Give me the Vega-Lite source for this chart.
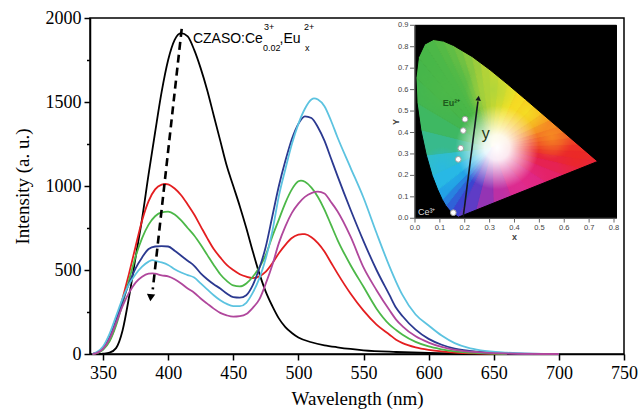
{
"$schema": "https://vega.github.io/schema/vega-lite/v6.json",
"width": 534,
"height": 336,
"autosize": {"type": "none"},
"padding": {"left": 90, "top": 18, "right": 14, "bottom": 58},
"background": "white",
"config": {
  "view": {"stroke": "black", "strokeWidth": 1.5},
  "axis": {"labelFont": "Liberation Serif", "labelFontSize": 18, "labelColor": "black", "titleFont": "Liberation Serif", "titleFontSize": 19, "titleFontWeight": "normal", "titleColor": "black", "domainColor": "black", "domainWidth": 1.5, "tickColor": "black", "tickWidth": 1.5, "grid": false, "labelOverlap": false, "labelFlush": false}
},
"datasets": {
  "spectra": [
    {"s":"x0","w":347,"v":0},{"s":"x0","w":350,"v":2},{"s":"x0","w":355,"v":8},{"s":"x0","w":360,"v":35},{"s":"x0","w":365,"v":140},{"s":"x0","w":370,"v":340},{"s":"x0","w":375,"v":575},{"s":"x0","w":380,"v":805},{"s":"x0","w":385,"v":1070},{"s":"x0","w":390,"v":1320},{"s":"x0","w":395,"v":1560},{"s":"x0","w":400,"v":1750},{"s":"x0","w":405,"v":1870},{"s":"x0","w":410,"v":1910},{"s":"x0","w":415,"v":1890},{"s":"x0","w":420,"v":1810},{"s":"x0","w":425,"v":1700},{"s":"x0","w":430,"v":1570},{"s":"x0","w":435,"v":1420},{"s":"x0","w":440,"v":1270},{"s":"x0","w":445,"v":1120},{"s":"x0","w":450,"v":1000},{"s":"x0","w":455,"v":880},{"s":"x0","w":460,"v":750},{"s":"x0","w":465,"v":610},{"s":"x0","w":470,"v":480},{"s":"x0","w":475,"v":370},{"s":"x0","w":480,"v":285},{"s":"x0","w":485,"v":212},{"s":"x0","w":490,"v":160},{"s":"x0","w":495,"v":125},{"s":"x0","w":500,"v":98},{"s":"x0","w":510,"v":70},{"s":"x0","w":520,"v":52},{"s":"x0","w":530,"v":40},{"s":"x0","w":540,"v":30},{"s":"x0","w":550,"v":22},{"s":"x0","w":575,"v":12},{"s":"x0","w":600,"v":6},{"s":"x0","w":650,"v":2},{"s":"x0","w":700,"v":0},
    {"s":"x1","w":342,"v":0},{"s":"x1","w":345,"v":5},{"s":"x1","w":350,"v":30},{"s":"x1","w":355,"v":80},{"s":"x1","w":360,"v":180},{"s":"x1","w":365,"v":330},{"s":"x1","w":370,"v":480},{"s":"x1","w":375,"v":640},{"s":"x1","w":380,"v":795},{"s":"x1","w":385,"v":910},{"s":"x1","w":390,"v":980},{"s":"x1","w":395,"v":1008},{"s":"x1","w":398,"v":1012},{"s":"x1","w":400,"v":1010},{"s":"x1","w":405,"v":985},{"s":"x1","w":410,"v":945},{"s":"x1","w":415,"v":890},{"s":"x1","w":420,"v":830},{"s":"x1","w":425,"v":760},{"s":"x1","w":430,"v":690},{"s":"x1","w":435,"v":625},{"s":"x1","w":440,"v":575},{"s":"x1","w":445,"v":530},{"s":"x1","w":450,"v":500},{"s":"x1","w":455,"v":475},{"s":"x1","w":460,"v":460},{"s":"x1","w":465,"v":452},{"s":"x1","w":470,"v":462},{"s":"x1","w":475,"v":490},{"s":"x1","w":480,"v":540},{"s":"x1","w":485,"v":600},{"s":"x1","w":490,"v":650},{"s":"x1","w":495,"v":690},{"s":"x1","w":500,"v":710},{"s":"x1","w":503,"v":714},{"s":"x1","w":505,"v":713},{"s":"x1","w":510,"v":695},{"s":"x1","w":515,"v":660},{"s":"x1","w":520,"v":610},{"s":"x1","w":525,"v":545},{"s":"x1","w":530,"v":480},{"s":"x1","w":540,"v":360},{"s":"x1","w":550,"v":258},{"s":"x1","w":560,"v":175},{"s":"x1","w":570,"v":115},{"s":"x1","w":575,"v":85},{"s":"x1","w":580,"v":65},{"s":"x1","w":590,"v":40},{"s":"x1","w":600,"v":25},{"s":"x1","w":610,"v":15},{"s":"x1","w":620,"v":8},{"s":"x1","w":640,"v":3},{"s":"x1","w":660,"v":0},
    {"s":"x2","w":342,"v":0},{"s":"x2","w":345,"v":5},{"s":"x2","w":350,"v":25},{"s":"x2","w":355,"v":75},{"s":"x2","w":360,"v":170},{"s":"x2","w":365,"v":300},{"s":"x2","w":370,"v":440},{"s":"x2","w":375,"v":580},{"s":"x2","w":380,"v":690},{"s":"x2","w":385,"v":770},{"s":"x2","w":390,"v":820},{"s":"x2","w":395,"v":843},{"s":"x2","w":400,"v":847},{"s":"x2","w":405,"v":830},{"s":"x2","w":410,"v":795},{"s":"x2","w":415,"v":750},{"s":"x2","w":420,"v":705},{"s":"x2","w":425,"v":650},{"s":"x2","w":430,"v":590},{"s":"x2","w":435,"v":530},{"s":"x2","w":440,"v":475},{"s":"x2","w":445,"v":435},{"s":"x2","w":450,"v":408},{"s":"x2","w":455,"v":402},{"s":"x2","w":460,"v":420},{"s":"x2","w":465,"v":460},{"s":"x2","w":470,"v":515},{"s":"x2","w":475,"v":590},{"s":"x2","w":480,"v":700},{"s":"x2","w":485,"v":800},{"s":"x2","w":490,"v":900},{"s":"x2","w":495,"v":980},{"s":"x2","w":500,"v":1028},{"s":"x2","w":502,"v":1032},{"s":"x2","w":505,"v":1025},{"s":"x2","w":510,"v":990},{"s":"x2","w":515,"v":935},{"s":"x2","w":520,"v":860},{"s":"x2","w":525,"v":770},{"s":"x2","w":530,"v":680},{"s":"x2","w":540,"v":530},{"s":"x2","w":550,"v":400},{"s":"x2","w":560,"v":270},{"s":"x2","w":570,"v":175},{"s":"x2","w":575,"v":143},{"s":"x2","w":580,"v":115},{"s":"x2","w":590,"v":72},{"s":"x2","w":600,"v":45},{"s":"x2","w":610,"v":28},{"s":"x2","w":620,"v":15},{"s":"x2","w":640,"v":5},{"s":"x2","w":660,"v":0},
    {"s":"x3","w":342,"v":0},{"s":"x3","w":345,"v":8},{"s":"x3","w":350,"v":35},{"s":"x3","w":355,"v":100},{"s":"x3","w":360,"v":200},{"s":"x3","w":365,"v":315},{"s":"x3","w":370,"v":420},{"s":"x3","w":375,"v":510},{"s":"x3","w":380,"v":575},{"s":"x3","w":385,"v":625},{"s":"x3","w":390,"v":640},{"s":"x3","w":395,"v":642},{"s":"x3","w":400,"v":640},{"s":"x3","w":405,"v":615},{"s":"x3","w":410,"v":585},{"s":"x3","w":415,"v":555},{"s":"x3","w":420,"v":525},{"s":"x3","w":425,"v":480},{"s":"x3","w":430,"v":445},{"s":"x3","w":435,"v":415},{"s":"x3","w":440,"v":390},{"s":"x3","w":445,"v":360},{"s":"x3","w":450,"v":338},{"s":"x3","w":455,"v":335},{"s":"x3","w":460,"v":350},{"s":"x3","w":465,"v":410},{"s":"x3","w":470,"v":510},{"s":"x3","w":475,"v":640},{"s":"x3","w":480,"v":820},{"s":"x3","w":485,"v":1000},{"s":"x3","w":490,"v":1150},{"s":"x3","w":495,"v":1280},{"s":"x3","w":500,"v":1370},{"s":"x3","w":505,"v":1415},{"s":"x3","w":510,"v":1405},{"s":"x3","w":515,"v":1350},{"s":"x3","w":520,"v":1270},{"s":"x3","w":525,"v":1165},{"s":"x3","w":530,"v":1060},{"s":"x3","w":540,"v":860},{"s":"x3","w":550,"v":672},{"s":"x3","w":560,"v":500},{"s":"x3","w":570,"v":350},{"s":"x3","w":575,"v":275},{"s":"x3","w":580,"v":225},{"s":"x3","w":590,"v":145},{"s":"x3","w":600,"v":90},{"s":"x3","w":610,"v":55},{"s":"x3","w":620,"v":32},{"s":"x3","w":640,"v":12},{"s":"x3","w":660,"v":4},{"s":"x3","w":680,"v":0},
    {"s":"x4","w":342,"v":0},{"s":"x4","w":345,"v":10},{"s":"x4","w":350,"v":45},{"s":"x4","w":355,"v":120},{"s":"x4","w":360,"v":225},{"s":"x4","w":365,"v":330},{"s":"x4","w":370,"v":415},{"s":"x4","w":375,"v":475},{"s":"x4","w":380,"v":520},{"s":"x4","w":385,"v":550},{"s":"x4","w":388,"v":559},{"s":"x4","w":390,"v":555},{"s":"x4","w":395,"v":545},{"s":"x4","w":400,"v":530},{"s":"x4","w":405,"v":505},{"s":"x4","w":410,"v":485},{"s":"x4","w":415,"v":470},{"s":"x4","w":420,"v":455},{"s":"x4","w":425,"v":420},{"s":"x4","w":430,"v":385},{"s":"x4","w":435,"v":350},{"s":"x4","w":440,"v":320},{"s":"x4","w":445,"v":298},{"s":"x4","w":450,"v":285},{"s":"x4","w":455,"v":285},{"s":"x4","w":460,"v":305},{"s":"x4","w":465,"v":365},{"s":"x4","w":470,"v":450},{"s":"x4","w":475,"v":570},{"s":"x4","w":480,"v":730},{"s":"x4","w":485,"v":940},{"s":"x4","w":490,"v":1100},{"s":"x4","w":495,"v":1250},{"s":"x4","w":500,"v":1370},{"s":"x4","w":505,"v":1460},{"s":"x4","w":510,"v":1515},{"s":"x4","w":512,"v":1522},{"s":"x4","w":515,"v":1515},{"s":"x4","w":520,"v":1475},{"s":"x4","w":525,"v":1390},{"s":"x4","w":530,"v":1290},{"s":"x4","w":540,"v":1110},{"s":"x4","w":550,"v":930},{"s":"x4","w":560,"v":720},{"s":"x4","w":570,"v":520},{"s":"x4","w":575,"v":430},{"s":"x4","w":580,"v":350},{"s":"x4","w":590,"v":235},{"s":"x4","w":600,"v":170},{"s":"x4","w":610,"v":110},{"s":"x4","w":620,"v":65},{"s":"x4","w":630,"v":38},{"s":"x4","w":640,"v":22},{"s":"x4","w":660,"v":8},{"s":"x4","w":680,"v":2},{"s":"x4","w":700,"v":0},
    {"s":"x5","w":342,"v":0},{"s":"x5","w":345,"v":5},{"s":"x5","w":350,"v":30},{"s":"x5","w":355,"v":90},{"s":"x5","w":360,"v":185},{"s":"x5","w":365,"v":285},{"s":"x5","w":370,"v":365},{"s":"x5","w":375,"v":425},{"s":"x5","w":380,"v":460},{"s":"x5","w":385,"v":478},{"s":"x5","w":388,"v":480},{"s":"x5","w":390,"v":478},{"s":"x5","w":395,"v":468},{"s":"x5","w":400,"v":462},{"s":"x5","w":405,"v":445},{"s":"x5","w":410,"v":420},{"s":"x5","w":415,"v":390},{"s":"x5","w":420,"v":365},{"s":"x5","w":425,"v":330},{"s":"x5","w":430,"v":300},{"s":"x5","w":435,"v":270},{"s":"x5","w":440,"v":245},{"s":"x5","w":445,"v":230},{"s":"x5","w":450,"v":222},{"s":"x5","w":455,"v":225},{"s":"x5","w":460,"v":238},{"s":"x5","w":465,"v":275},{"s":"x5","w":470,"v":325},{"s":"x5","w":475,"v":420},{"s":"x5","w":480,"v":530},{"s":"x5","w":485,"v":660},{"s":"x5","w":490,"v":760},{"s":"x5","w":495,"v":840},{"s":"x5","w":500,"v":895},{"s":"x5","w":505,"v":935},{"s":"x5","w":510,"v":958},{"s":"x5","w":515,"v":966},{"s":"x5","w":520,"v":955},{"s":"x5","w":525,"v":905},{"s":"x5","w":530,"v":850},{"s":"x5","w":540,"v":700},{"s":"x5","w":550,"v":515},{"s":"x5","w":560,"v":380},{"s":"x5","w":570,"v":260},{"s":"x5","w":575,"v":205},{"s":"x5","w":580,"v":165},{"s":"x5","w":590,"v":105},{"s":"x5","w":600,"v":68},{"s":"x5","w":610,"v":42},{"s":"x5","w":620,"v":25},{"s":"x5","w":640,"v":10},{"s":"x5","w":660,"v":3},{"s":"x5","w":700,"v":0}
  ],
  "fan": [
    {"t":0,"o":0,"cx":0.31,"cy":0.33},{"t":0,"o":1,"cx":0.1741,"cy":0.005},{"t":0,"o":2,"cx":0.144,"cy":0.0297},
    {"t":1,"o":0,"cx":0.31,"cy":0.33},{"t":1,"o":1,"cx":0.144,"cy":0.0297},{"t":1,"o":2,"cx":0.1241,"cy":0.0578},
    {"t":2,"o":0,"cx":0.31,"cy":0.33},{"t":2,"o":1,"cx":0.1241,"cy":0.0578},{"t":2,"o":2,"cx":0.1096,"cy":0.0868},
    {"t":3,"o":0,"cx":0.31,"cy":0.33},{"t":3,"o":1,"cx":0.1096,"cy":0.0868},{"t":3,"o":2,"cx":0.0913,"cy":0.1327},
    {"t":4,"o":0,"cx":0.31,"cy":0.33},{"t":4,"o":1,"cx":0.0913,"cy":0.1327},{"t":4,"o":2,"cx":0.0687,"cy":0.2007},
    {"t":5,"o":0,"cx":0.31,"cy":0.33},{"t":5,"o":1,"cx":0.0687,"cy":0.2007},{"t":5,"o":2,"cx":0.0454,"cy":0.295},
    {"t":6,"o":0,"cx":0.31,"cy":0.33},{"t":6,"o":1,"cx":0.0454,"cy":0.295},{"t":6,"o":2,"cx":0.0235,"cy":0.4127},
    {"t":7,"o":0,"cx":0.31,"cy":0.33},{"t":7,"o":1,"cx":0.0235,"cy":0.4127},{"t":7,"o":2,"cx":0.0082,"cy":0.5384},
    {"t":8,"o":0,"cx":0.31,"cy":0.33},{"t":8,"o":1,"cx":0.0082,"cy":0.5384},{"t":8,"o":2,"cx":0.0039,"cy":0.6548},
    {"t":9,"o":0,"cx":0.31,"cy":0.33},{"t":9,"o":1,"cx":0.0039,"cy":0.6548},{"t":9,"o":2,"cx":0.0139,"cy":0.7502},
    {"t":10,"o":0,"cx":0.31,"cy":0.33},{"t":10,"o":1,"cx":0.0139,"cy":0.7502},{"t":10,"o":2,"cx":0.0389,"cy":0.812},
    {"t":11,"o":0,"cx":0.31,"cy":0.33},{"t":11,"o":1,"cx":0.0389,"cy":0.812},{"t":11,"o":2,"cx":0.0743,"cy":0.8338},
    {"t":12,"o":0,"cx":0.31,"cy":0.33},{"t":12,"o":1,"cx":0.0743,"cy":0.8338},{"t":12,"o":2,"cx":0.1142,"cy":0.8262},
    {"t":13,"o":0,"cx":0.31,"cy":0.33},{"t":13,"o":1,"cx":0.1142,"cy":0.8262},{"t":13,"o":2,"cx":0.1547,"cy":0.8059},
    {"t":14,"o":0,"cx":0.31,"cy":0.33},{"t":14,"o":1,"cx":0.1547,"cy":0.8059},{"t":14,"o":2,"cx":0.1922,"cy":0.7801},
    {"t":15,"o":0,"cx":0.31,"cy":0.33},{"t":15,"o":1,"cx":0.1922,"cy":0.7801},{"t":15,"o":2,"cx":0.2296,"cy":0.7543},
    {"t":16,"o":0,"cx":0.31,"cy":0.33},{"t":16,"o":1,"cx":0.2296,"cy":0.7543},{"t":16,"o":2,"cx":0.2656,"cy":0.7233},
    {"t":17,"o":0,"cx":0.31,"cy":0.33},{"t":17,"o":1,"cx":0.2656,"cy":0.7233},{"t":17,"o":2,"cx":0.3016,"cy":0.6923},
    {"t":18,"o":0,"cx":0.31,"cy":0.33},{"t":18,"o":1,"cx":0.3016,"cy":0.6923},{"t":18,"o":2,"cx":0.3374,"cy":0.6584},
    {"t":19,"o":0,"cx":0.31,"cy":0.33},{"t":19,"o":1,"cx":0.3374,"cy":0.6584},{"t":19,"o":2,"cx":0.3731,"cy":0.6245},
    {"t":20,"o":0,"cx":0.31,"cy":0.33},{"t":20,"o":1,"cx":0.3731,"cy":0.6245},{"t":20,"o":2,"cx":0.4086,"cy":0.5896},
    {"t":21,"o":0,"cx":0.31,"cy":0.33},{"t":21,"o":1,"cx":0.4086,"cy":0.5896},{"t":21,"o":2,"cx":0.4441,"cy":0.5547},
    {"t":22,"o":0,"cx":0.31,"cy":0.33},{"t":22,"o":1,"cx":0.4441,"cy":0.5547},{"t":22,"o":2,"cx":0.4783,"cy":0.5207},
    {"t":23,"o":0,"cx":0.31,"cy":0.33},{"t":23,"o":1,"cx":0.4783,"cy":0.5207},{"t":23,"o":2,"cx":0.5125,"cy":0.4866},
    {"t":24,"o":0,"cx":0.31,"cy":0.33},{"t":24,"o":1,"cx":0.5125,"cy":0.4866},{"t":24,"o":2,"cx":0.5439,"cy":0.4554},
    {"t":25,"o":0,"cx":0.31,"cy":0.33},{"t":25,"o":1,"cx":0.5439,"cy":0.4554},{"t":25,"o":2,"cx":0.5752,"cy":0.4242},
    {"t":26,"o":0,"cx":0.31,"cy":0.33},{"t":26,"o":1,"cx":0.5752,"cy":0.4242},{"t":26,"o":2,"cx":0.6011,"cy":0.3984},
    {"t":27,"o":0,"cx":0.31,"cy":0.33},{"t":27,"o":1,"cx":0.6011,"cy":0.3984},{"t":27,"o":2,"cx":0.627,"cy":0.3725},
    {"t":28,"o":0,"cx":0.31,"cy":0.33},{"t":28,"o":1,"cx":0.627,"cy":0.3725},{"t":28,"o":2,"cx":0.6593,"cy":0.3404},
    {"t":29,"o":0,"cx":0.31,"cy":0.33},{"t":29,"o":1,"cx":0.6593,"cy":0.3404},{"t":29,"o":2,"cx":0.6915,"cy":0.3083},
    {"t":30,"o":0,"cx":0.31,"cy":0.33},{"t":30,"o":1,"cx":0.6915,"cy":0.3083},{"t":30,"o":2,"cx":0.7347,"cy":0.2653},
    {"t":31,"o":0,"cx":0.31,"cy":0.33},{"t":31,"o":1,"cx":0.7347,"cy":0.2653},{"t":31,"o":2,"cx":0.6646,"cy":0.2328},
    {"t":32,"o":0,"cx":0.31,"cy":0.33},{"t":32,"o":1,"cx":0.6646,"cy":0.2328},{"t":32,"o":2,"cx":0.5945,"cy":0.2002},
    {"t":33,"o":0,"cx":0.31,"cy":0.33},{"t":33,"o":1,"cx":0.5945,"cy":0.2002},{"t":33,"o":2,"cx":0.5245,"cy":0.1677},
    {"t":34,"o":0,"cx":0.31,"cy":0.33},{"t":34,"o":1,"cx":0.5245,"cy":0.1677},{"t":34,"o":2,"cx":0.4544,"cy":0.1352},
    {"t":35,"o":0,"cx":0.31,"cy":0.33},{"t":35,"o":1,"cx":0.4544,"cy":0.1352},{"t":35,"o":2,"cx":0.3843,"cy":0.1026},
    {"t":36,"o":0,"cx":0.31,"cy":0.33},{"t":36,"o":1,"cx":0.3843,"cy":0.1026},{"t":36,"o":2,"cx":0.3142,"cy":0.0701},
    {"t":37,"o":0,"cx":0.31,"cy":0.33},{"t":37,"o":1,"cx":0.3142,"cy":0.0701},{"t":37,"o":2,"cx":0.2442,"cy":0.0375},
    {"t":38,"o":0,"cx":0.31,"cy":0.33},{"t":38,"o":1,"cx":0.2442,"cy":0.0375},{"t":38,"o":2,"cx":0.1741,"cy":0.005}
  ],
  "mask": [
    {"m":"A","o":0,"cx":0,"cy":0},{"m":"A","o":1,"cx":0.1741,"cy":0},{"m":"A","o":2,"cx":0.1741,"cy":0.005},{"m":"A","o":3,"cx":0.144,"cy":0.0297},{"m":"A","o":4,"cx":0.1241,"cy":0.0578},{"m":"A","o":5,"cx":0.1096,"cy":0.0868},{"m":"A","o":6,"cx":0.0913,"cy":0.1327},{"m":"A","o":7,"cx":0.0687,"cy":0.2007},{"m":"A","o":8,"cx":0.0454,"cy":0.295},{"m":"A","o":9,"cx":0.0235,"cy":0.4127},{"m":"A","o":10,"cx":0.0082,"cy":0.5384},{"m":"A","o":11,"cx":0.0039,"cy":0.6548},{"m":"A","o":12,"cx":0.0139,"cy":0.7502},{"m":"A","o":13,"cx":0.0389,"cy":0.812},{"m":"A","o":14,"cx":0.0743,"cy":0.8338},{"m":"A","o":15,"cx":0.0743,"cy":0.9},{"m":"A","o":16,"cx":0,"cy":0.9},
    {"m":"B","o":0,"cx":0.0743,"cy":0.9},{"m":"B","o":1,"cx":0.0743,"cy":0.8338},{"m":"B","o":2,"cx":0.1142,"cy":0.8262},{"m":"B","o":3,"cx":0.1547,"cy":0.8059},{"m":"B","o":4,"cx":0.2296,"cy":0.7543},{"m":"B","o":5,"cx":0.3016,"cy":0.6923},{"m":"B","o":6,"cx":0.3731,"cy":0.6245},{"m":"B","o":7,"cx":0.4441,"cy":0.5547},{"m":"B","o":8,"cx":0.5125,"cy":0.4866},{"m":"B","o":9,"cx":0.5752,"cy":0.4242},{"m":"B","o":10,"cx":0.627,"cy":0.3725},{"m":"B","o":11,"cx":0.6915,"cy":0.3083},{"m":"B","o":12,"cx":0.7347,"cy":0.2653},{"m":"B","o":13,"cx":0.81,"cy":0.2653},{"m":"B","o":14,"cx":0.81,"cy":0.9},
    {"m":"C","o":0,"cx":0.7347,"cy":0.2653},{"m":"C","o":1,"cx":0.6226,"cy":0.2133},{"m":"C","o":2,"cx":0.5105,"cy":0.1613},{"m":"C","o":3,"cx":0.3983,"cy":0.1092},{"m":"C","o":4,"cx":0.2862,"cy":0.0571},{"m":"C","o":5,"cx":0.1741,"cy":0.005},{"m":"C","o":6,"cx":0.1741,"cy":0},{"m":"C","o":7,"cx":0.81,"cy":0},{"m":"C","o":8,"cx":0.81,"cy":0.2653}
  ],
  "cie": [
    {"p":"Eu1","cx":0.201,"cy":0.462},{"p":"Eu2","cx":0.194,"cy":0.409},{"p":"Eu3","cx":0.184,"cy":0.327},{"p":"Eu4","cx":0.174,"cy":0.275},{"p":"Ce","cx":0.154,"cy":0.026}
  ],
  "xt": [{"v":0},{"v":0.1},{"v":0.2},{"v":0.3},{"v":0.4},{"v":0.5},{"v":0.6},{"v":0.7},{"v":0.8}],
  "yt": [{"v":0},{"v":0.1},{"v":0.2},{"v":0.3},{"v":0.4},{"v":0.5},{"v":0.6},{"v":0.7},{"v":0.8},{"v":0.9}]
},
"layer": [
  {
    "layer": [
      {
        "data": {"name": "spectra"},
        "mark": {"type": "line", "strokeWidth": 1.8, "interpolate": "monotone"},
        "encoding": {
          "x": {"field": "w", "type": "quantitative", "scale": {"domain": [340, 750], "nice": false, "zero": false},
                "axis": {"title": "Wavelength (nm)", "values": [350,375,400,425,450,475,500,525,550,575,600,625,650,675,700,725,750], "labelExpr": "datum.value % 50 == 0 ? datum.label : ''", "tickSize": {"condition": {"test": "datum.value % 50 != 0", "value": 3.5}, "value": 6}, "labelPadding": 4, "titlePadding": 7}},
          "y": {"field": "v", "type": "quantitative", "scale": {"domain": [0, 2000], "nice": false},
                "axis": {"title": "Intensity (a. u.)", "values": [0,250,500,750,1000,1250,1500,1750,2000], "labelExpr": "datum.value % 500 == 0 ? datum.label : ''", "format": "d", "tickSize": {"condition": {"test": "datum.value % 500 != 0", "value": 3.5}, "value": 6}, "labelPadding": 3, "titlePadding": 13}},
          "color": {"field": "s", "type": "nominal", "scale": {"domain": ["x0","x1","x2","x3","x4","x5"], "range": ["#000000","#e41e20","#4cb848","#2b3990","#5cc3e0","#b0479c"]}, "legend": null}
        }
      },
      {
        "data": {"values": [{"w": 410.4, "v": 1935, "w2": 388.2, "v2": 385}]},
        "mark": {"type": "rule", "strokeDash": [8, 5], "strokeWidth": 2.6, "color": "black"},
        "encoding": {"x": {"field": "w", "type": "quantitative"}, "y": {"field": "v", "type": "quantitative"}, "x2": {"field": "w2"}, "y2": {"field": "v2"}}
      },
      {
        "data": {"values": [{"w": 386.6, "v": 335}]},
        "mark": {"type": "point", "shape": "triangle-down", "filled": true, "color": "black", "size": 70, "angle": 6, "opacity": 1},
        "encoding": {"x": {"field": "w", "type": "quantitative"}, "y": {"field": "v", "type": "quantitative"}}
      },
      {
        "data": {"values": [{"t": "CZASO:Ce", "w": 419, "v": 1851}, {"t": ",Eu", "w": 485.5, "v": 1851}]},
        "mark": {"type": "text", "font": "Liberation Sans", "fontSize": 14, "align": "left", "baseline": "alphabetic", "color": "black"},
        "encoding": {"x": {"field": "w", "type": "quantitative"}, "y": {"field": "v", "type": "quantitative"}, "text": {"field": "t"}}
      },
      {
        "data": {"values": [{"t": "3+", "w": 473.6, "v": 1930}, {"t": "0.02", "w": 472.8, "v": 1805}, {"t": "2+", "w": 504.3, "v": 1930}, {"t": "x", "w": 505.1, "v": 1805}]},
        "mark": {"type": "text", "font": "Liberation Sans", "fontSize": 9, "align": "left", "baseline": "alphabetic", "color": "black"},
        "encoding": {"x": {"field": "w", "type": "quantitative"}, "y": {"field": "v", "type": "quantitative"}, "text": {"field": "t"}}
      }
    ]
  },
  {
    "layer": [
      {
        "data": {"values": [{"x0": 0, "x1": 0.81, "y0": 0, "y1": 0.9}]},
        "mark": {"type": "rect", "color": "black"},
        "encoding": {
          "x": {"field": "x0", "type": "quantitative", "scale": {"domain": [-1.3065, 0.8402], "nice": false, "zero": false}, "axis": null},
          "x2": {"field": "x1"},
          "y": {"field": "y0", "type": "quantitative", "scale": {"domain": [-0.633, 0.934], "nice": false, "zero": false}, "axis": null},
          "y2": {"field": "y1"}
        }
      },
      {
        "data": {"name": "fan"},
        "mark": {"type": "line", "interpolate": "linear-closed", "strokeWidth": 1},
        "encoding": {
          "x": {"field": "cx", "type": "quantitative", "axis": null},
          "y": {"field": "cy", "type": "quantitative", "axis": null},
          "order": {"field": "o"},
          "detail": {"field": "t"},
          "fill": {"field": "t", "type": "nominal", "scale": {"domain": [0,1,2,3,4,5,6,7,8,9,10,11,12,13,14,15,16,17,18,19,20,21,22,23,24,25,26,27,28,29,30,31,32,33,34,35,36,37,38], "range": ["#3b44d0","#2f62d8","#2882e0","#22a2e6","#28b8e6","#32bfc8","#38ba8c","#3eb862","#43b650","#46b64a","#48b748","#4cb848","#54ba46","#60bd45","#70c143","#86c740","#9ccc3c","#b4d236","#cad930","#e0de2a","#f0e126","#f6d622","#f8c420","#f8b020","#f69a20","#f48424","#f26c26","#f05628","#ee4428","#ec3429","#ea2a2c","#e8243c","#e62252","#e42268","#e0247e","#d82a92","#bc30a4","#9434b4","#5e3cc6"]}, "legend": null},
          "stroke": {"field": "t", "type": "nominal", "scale": {"domain": [0,1,2,3,4,5,6,7,8,9,10,11,12,13,14,15,16,17,18,19,20,21,22,23,24,25,26,27,28,29,30,31,32,33,34,35,36,37,38], "range": ["#3b44d0","#2f62d8","#2882e0","#22a2e6","#28b8e6","#32bfc8","#38ba8c","#3eb862","#43b650","#46b64a","#48b748","#4cb848","#54ba46","#60bd45","#70c143","#86c740","#9ccc3c","#b4d236","#cad930","#e0de2a","#f0e126","#f6d622","#f8c420","#f8b020","#f69a20","#f48424","#f26c26","#f05628","#ee4428","#ec3429","#ea2a2c","#e8243c","#e62252","#e42268","#e0247e","#d82a92","#bc30a4","#9434b4","#5e3cc6"]}, "legend": null}
        }
      },
      {
        "data": {"values": [{"cx": 0.13, "cy": 0.6}]},
        "mark": {"type": "point", "shape": "circle", "filled": true, "size": 4000, "opacity": 1, "strokeWidth": 0, "fill": {"gradient": "radial", "stops": [{"offset": 0, "color": "rgba(76,184,72,0.85)"}, {"offset": 1, "color": "rgba(76,184,72,0)"}]}},
        "encoding": {"x": {"field": "cx", "type": "quantitative", "axis": null}, "y": {"field": "cy", "type": "quantitative", "axis": null}}
      },
      {
        "data": {"values": [{"cx": 0.31, "cy": 0.6}]},
        "mark": {"type": "point", "shape": "circle", "filled": true, "size": 2800, "opacity": 1, "strokeWidth": 0, "fill": {"gradient": "radial", "stops": [{"offset": 0, "color": "rgba(170,212,60,0.75)"}, {"offset": 1, "color": "rgba(170,212,60,0)"}]}},
        "encoding": {"x": {"field": "cx", "type": "quantitative", "axis": null}, "y": {"field": "cy", "type": "quantitative", "axis": null}}
      },
      {
        "data": {"values": [{"cx": 0.45, "cy": 0.49}]},
        "mark": {"type": "point", "shape": "circle", "filled": true, "size": 2400, "opacity": 1, "strokeWidth": 0, "fill": {"gradient": "radial", "stops": [{"offset": 0, "color": "rgba(244,228,36,0.8)"}, {"offset": 1, "color": "rgba(244,228,36,0)"}]}},
        "encoding": {"x": {"field": "cx", "type": "quantitative", "axis": null}, "y": {"field": "cy", "type": "quantitative", "axis": null}}
      },
      {
        "data": {"values": [{"cx": 0.55, "cy": 0.38}]},
        "mark": {"type": "point", "shape": "circle", "filled": true, "size": 2000, "opacity": 1, "strokeWidth": 0, "fill": {"gradient": "radial", "stops": [{"offset": 0, "color": "rgba(247,150,32,0.75)"}, {"offset": 1, "color": "rgba(247,150,32,0)"}]}},
        "encoding": {"x": {"field": "cx", "type": "quantitative", "axis": null}, "y": {"field": "cy", "type": "quantitative", "axis": null}}
      },
      {
        "data": {"values": [{"cx": 0.65, "cy": 0.28}]},
        "mark": {"type": "point", "shape": "circle", "filled": true, "size": 1800, "opacity": 1, "strokeWidth": 0, "fill": {"gradient": "radial", "stops": [{"offset": 0, "color": "rgba(236,40,36,0.8)"}, {"offset": 1, "color": "rgba(236,40,36,0)"}]}},
        "encoding": {"x": {"field": "cx", "type": "quantitative", "axis": null}, "y": {"field": "cy", "type": "quantitative", "axis": null}}
      },
      {
        "data": {"values": [{"cx": 0.44, "cy": 0.16}]},
        "mark": {"type": "point", "shape": "circle", "filled": true, "size": 2400, "opacity": 1, "strokeWidth": 0, "fill": {"gradient": "radial", "stops": [{"offset": 0, "color": "rgba(226,44,140,0.75)"}, {"offset": 1, "color": "rgba(226,44,140,0)"}]}},
        "encoding": {"x": {"field": "cx", "type": "quantitative", "axis": null}, "y": {"field": "cy", "type": "quantitative", "axis": null}}
      },
      {
        "data": {"values": [{"cx": 0.11, "cy": 0.23}]},
        "mark": {"type": "point", "shape": "circle", "filled": true, "size": 2000, "opacity": 1, "strokeWidth": 0, "fill": {"gradient": "radial", "stops": [{"offset": 0, "color": "rgba(40,184,228,0.8)"}, {"offset": 1, "color": "rgba(40,184,228,0)"}]}},
        "encoding": {"x": {"field": "cx", "type": "quantitative", "axis": null}, "y": {"field": "cy", "type": "quantitative", "axis": null}}
      },
      {
        "data": {"values": [{"cx": 0.33, "cy": 0.33}]},
        "mark": {"type": "point", "shape": "circle", "filled": true, "size": 7000, "opacity": 1, "strokeWidth": 0,
                 "fill": {"gradient": "radial", "stops": [{"offset": 0, "color": "rgba(255,255,255,1)"}, {"offset": 0.3, "color": "rgba(255,255,255,0.9)"}, {"offset": 1, "color": "rgba(255,255,255,0)"}]}},
        "encoding": {"x": {"field": "cx", "type": "quantitative", "axis": null}, "y": {"field": "cy", "type": "quantitative", "axis": null}}
      },
      {
        "data": {"name": "mask"},
        "mark": {"type": "line", "interpolate": "linear-closed", "strokeWidth": 1},
        "encoding": {
          "x": {"field": "cx", "type": "quantitative", "axis": null},
          "y": {"field": "cy", "type": "quantitative", "axis": null},
          "order": {"field": "o"},
          "detail": {"field": "m"},
          "fill": {"value": "black"},
          "stroke": {"value": "black"}
        }
      },
      {
        "data": {"values": [{"cx": 0.194, "cy": 0.0075, "cx2": 0.253, "cy2": 0.545}]},
        "mark": {"type": "rule", "strokeWidth": 1.6, "color": "#141820"},
        "encoding": {"x": {"field": "cx", "type": "quantitative", "axis": null}, "y": {"field": "cy", "type": "quantitative", "axis": null}, "x2": {"field": "cx2"}, "y2": {"field": "cy2"}}
      },
      {
        "data": {"values": [{"cx": 0.255, "cy": 0.56}]},
        "mark": {"type": "point", "shape": "triangle-up", "filled": true, "size": 30, "angle": 7, "opacity": 1, "color": "#141820"},
        "encoding": {"x": {"field": "cx", "type": "quantitative", "axis": null}, "y": {"field": "cy", "type": "quantitative", "axis": null}}
      },
      {
        "data": {"name": "cie"},
        "mark": {"type": "point", "shape": "circle", "filled": true, "size": 32, "opacity": 1, "fill": "white", "stroke": "#a0a0a0", "strokeWidth": 1},
        "encoding": {"x": {"field": "cx", "type": "quantitative", "axis": null}, "y": {"field": "cy", "type": "quantitative", "axis": null}}
      },
      {
        "data": {"values": [{"t": "Eu²⁺", "cx": 0.112, "cy": 0.524}]},
        "mark": {"type": "text", "font": "Liberation Sans", "fontSize": 9, "fontWeight": "bold", "align": "left", "baseline": "alphabetic", "color": "#1d5a1d"},
        "encoding": {"x": {"field": "cx", "type": "quantitative", "axis": null}, "y": {"field": "cy", "type": "quantitative", "axis": null}, "text": {"field": "t"}}
      },
      {
        "data": {"values": [{"t": "Ce³⁺", "cx": 0.012, "cy": 0.015}]},
        "mark": {"type": "text", "font": "Liberation Sans", "fontSize": 9, "align": "left", "baseline": "alphabetic", "color": "#dddddd"},
        "encoding": {"x": {"field": "cx", "type": "quantitative", "axis": null}, "y": {"field": "cy", "type": "quantitative", "axis": null}, "text": {"field": "t"}}
      },
      {
        "data": {"values": [{"t": "y", "cx": 0.268, "cy": 0.37}]},
        "mark": {"type": "text", "font": "Liberation Sans", "fontSize": 16, "align": "left", "baseline": "alphabetic", "color": "#1e3412"},
        "encoding": {"x": {"field": "cx", "type": "quantitative", "axis": null}, "y": {"field": "cy", "type": "quantitative", "axis": null}, "text": {"field": "t"}}
      },
      {
        "data": {"values": [{"x0": 0, "y0": 0, "x1": 0.81, "y1": 0}, {"x0": 0, "y0": 0, "x1": 0, "y1": 0.9}]},
        "mark": {"type": "rule", "strokeWidth": 1, "color": "#666666"},
        "encoding": {"x": {"field": "x0", "type": "quantitative", "axis": null}, "y": {"field": "y0", "type": "quantitative", "axis": null}, "x2": {"field": "x1"}, "y2": {"field": "y1"}}
      },
      {
        "data": {"name": "xt"},
        "mark": {"type": "rule", "strokeWidth": 1, "color": "#666666"},
        "encoding": {"x": {"field": "v", "type": "quantitative", "axis": null}, "y": {"datum": 0, "type": "quantitative", "axis": null}, "y2": {"datum": -0.02}}
      },
      {
        "data": {"name": "yt"},
        "mark": {"type": "rule", "strokeWidth": 1, "color": "#666666"},
        "encoding": {"y": {"field": "v", "type": "quantitative", "axis": null}, "x": {"datum": 0, "type": "quantitative", "axis": null}, "x2": {"datum": -0.02}}
      },
      {
        "data": {"name": "xt"},
        "mark": {"type": "text", "font": "Liberation Sans", "fontSize": 7.5, "baseline": "top", "align": "center", "color": "#444444"},
        "encoding": {"x": {"field": "v", "type": "quantitative", "axis": null}, "y": {"datum": -0.028, "type": "quantitative", "axis": null}, "text": {"field": "v", "format": ".1f"}}
      },
      {
        "data": {"name": "yt"},
        "mark": {"type": "text", "font": "Liberation Sans", "fontSize": 7.5, "baseline": "middle", "align": "right", "color": "#444444"},
        "encoding": {"y": {"field": "v", "type": "quantitative", "axis": null}, "x": {"datum": -0.026, "type": "quantitative", "axis": null}, "text": {"field": "v", "format": ".1f"}}
      },
      {
        "data": {"values": [{"t": "x", "cx": 0.4, "cy": -0.087}]},
        "mark": {"type": "text", "font": "Liberation Sans", "fontSize": 9, "fontWeight": "bold", "baseline": "middle", "align": "center", "color": "#444444"},
        "encoding": {"x": {"field": "cx", "type": "quantitative", "axis": null}, "y": {"field": "cy", "type": "quantitative", "axis": null}, "text": {"field": "t"}}
      },
      {
        "data": {"values": [{"t": "Y", "cx": -0.075, "cy": 0.449}]},
        "mark": {"type": "text", "font": "Liberation Sans", "fontSize": 9, "fontWeight": "bold", "baseline": "middle", "align": "center", "angle": 270, "color": "#444444"},
        "encoding": {"x": {"field": "cx", "type": "quantitative", "axis": null}, "y": {"field": "cy", "type": "quantitative", "axis": null}, "text": {"field": "t"}}
      }
    ]
  }
],
"resolve": {"scale": {"x": "independent", "y": "independent", "fill": "independent", "stroke": "independent", "color": "independent"}}
}
